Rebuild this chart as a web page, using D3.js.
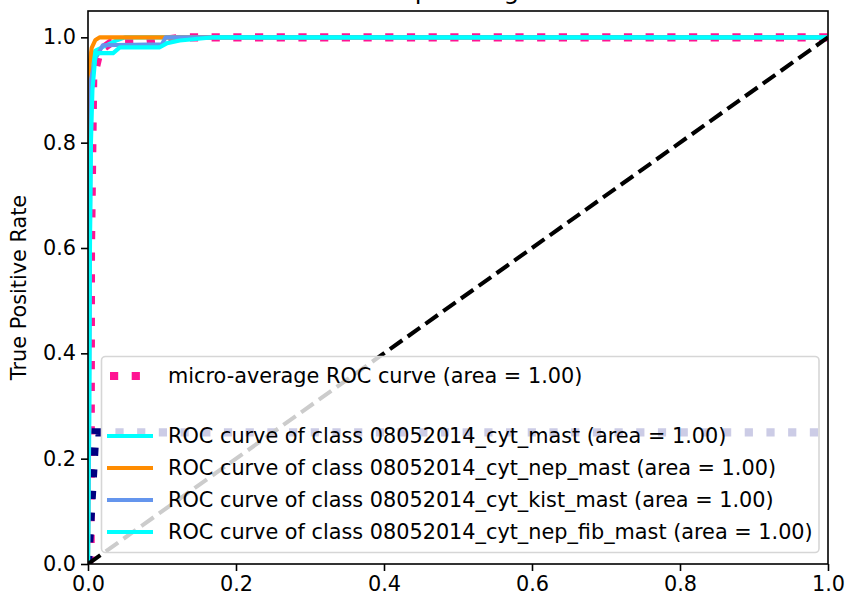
<!DOCTYPE html>
<html>
<head>
<meta charset="utf-8">
<script src="https://cdn.jsdelivr.net/npm/d3@7"></script>
<style>
  body { margin: 0; background: #fff; }
  svg text { font-family: "DejaVu Sans", sans-serif; fill: #000; }
</style>
</head>
<body>
<div class="chart"></div>
<script>
// --- data ---
const classNames = ["08052014_cyt_mast", "08052014_cyt_nep_mast", "08052014_cyt_kist_mast", "08052014_cyt_nep_fib_mast"];
const classColors = ["aqua", "darkorange", "cornflowerblue", "aqua"];
const classAreas = [1.00, 1.00, 1.00, 1.00];

const fpr0 = [0, 0.002, 0.003, 0.006, 0.01, 0.025, 0.04, 0.05, 1];
const tpr0 = [0, 0.3, 0.9, 0.96, 0.975, 0.985, 0.995, 1, 1];
const fpr1 = [0, 0.001, 0.002, 0.005, 0.01, 0.016, 1];
const tpr1 = [0, 0.6, 0.95, 0.98, 0.995, 1, 1];
const fpr2 = [0, 0.002, 0.004, 0.01, 0.02, 0.1, 0.105, 1];
const tpr2 = [0, 0.5, 0.92, 0.96, 0.985, 0.987, 1, 1];
const fpr3 = [0, 0.002, 0.004, 0.006, 0.01, 0.013, 0.034, 0.043, 0.097, 0.107, 0.124, 0.17, 1];
const tpr3 = [0, 0.5, 0.8, 0.9, 0.965, 0.97, 0.97, 0.981, 0.981, 0.989, 0.994, 1, 1];

const microFpr = [0, 0.0035, 0.004, 0.007, 0.016, 0.03, 0.07, 0.1, 0.13, 1];
const microTpr = [0, 0.01, 0.6, 0.92, 0.975, 0.989, 0.99, 0.995, 1, 1];
const microArea = 1.00;

const macroFpr = [0, 0.002, 0.01, 1];
const macroTpr = [0, 0.05, 0.25, 0.25];

const xTicks = [0, 0.2, 0.4, 0.6, 0.8, 1.0];
const yTicks = [0, 0.2, 0.4, 0.6, 0.8, 1.0];

const classFpr = [fpr0, fpr1, fpr2, fpr3];
const classTpr = [tpr0, tpr1, tpr2, tpr3];

// --- layout ---
const width = 848, height = 599;
const m = { left: 88, right: 828, top: 11, bottom: 564 };
const fontSize = "20.8px";

const svg = d3.select(".chart").append("svg")
    .attr("width", width)
    .attr("height", height);

const x = d3.scaleLinear().domain([0, 1]).range([m.left, m.right]);
const y = d3.scaleLinear().domain([0, 1.05]).range([m.bottom, m.top]);

const zip = (a, b) => a.map((v, i) => [v, b[i]]);
const line = d3.line().x(d => x(d[0])).y(d => y(d[1]));

svg.append("clipPath").attr("id", "plot-clip")
    .append("rect")
    .attr("x", m.left).attr("y", m.top)
    .attr("width", m.right - m.left).attr("height", m.bottom - m.top);

const plot = svg.append("g").attr("clip-path", "url(#plot-clip)");

// micro-average
plot.append("path")
    .datum(zip(microFpr, microTpr))
    .attr("d", line)
    .attr("fill", "none")
    .attr("stroke", "deeppink")
    .attr("stroke-width", 8.2)
    .attr("stroke-dasharray", "8.2,13.5");

// macro-average
plot.append("path")
    .datum(zip(macroFpr, macroTpr))
    .attr("d", line)
    .attr("fill", "none")
    .attr("stroke", "navy")
    .attr("stroke-width", 8.2)
    .attr("stroke-dasharray", "8.2,13.5");

classFpr.forEach((f, i) => {
    plot.append("path")
        .datum(zip(f, classTpr[i]))
        .attr("d", line)
        .attr("fill", "none")
        .attr("stroke", classColors[i])
        .attr("stroke-width", 4.1)
        .attr("stroke-linejoin", "round");
});

// chance diagonal
plot.append("path")
    .datum([[0, 0], [1, 1]])
    .attr("d", line)
    .attr("fill", "none")
    .attr("stroke", "#000")
    .attr("stroke-width", 4.1)
    .attr("stroke-dasharray", "15.2,6.6");

// axes
const xAxis = d3.axisBottom(x).tickValues(xTicks).tickFormat(d3.format(".1f")).tickSize(7).tickPadding(5);
const yAxis = d3.axisLeft(y).tickValues(yTicks).tickFormat(d3.format(".1f")).tickSize(7).tickPadding(5);

const gx = svg.append("g").attr("transform", `translate(0,${m.bottom})`).call(xAxis);
const gy = svg.append("g").attr("transform", `translate(${m.left},0)`).call(yAxis);
[gx, gy].forEach(g => {
    g.select(".domain").remove();
    g.selectAll("line").attr("stroke", "#000").attr("stroke-width", 1.6);
    g.selectAll("text").style("font-size", fontSize).style("font-family", "DejaVu Sans");
});

svg.append("rect")
    .attr("x", m.left).attr("y", m.top)
    .attr("width", m.right - m.left).attr("height", m.bottom - m.top)
    .attr("fill", "none")
    .attr("stroke", "#000")
    .attr("stroke-width", 1.6);

// title (mostly cut off at the top, as in the original)
svg.append("text")
    .text("Some extension of Receiver operating characteristic to multi-class")
    .attr("x", (m.left + m.right) / 2)
    .attr("y", -1)
    .style("text-anchor", "middle")
    .style("font-size", "24.8px");

svg.append("text")
    .text("True Positive Rate")
    .attr("transform", `translate(26,${(m.top + m.bottom) / 2}) rotate(-90)`)
    .style("text-anchor", "middle")
    .style("font-size", fontSize);

// legend
const legend = svg.append("g");
legend.append("rect")
    .attr("x", 101.5).attr("y", 356.5)
    .attr("width", 717.5).attr("height", 196)
    .attr("rx", 4)
    .attr("fill", "#fff").attr("fill-opacity", 0.8)
    .attr("stroke", "#d6d6d6").attr("stroke-width", 1.6);

const legendItems = [
    { label: `micro-average ROC curve (area = ${microArea.toFixed(2)})`, color: "deeppink", dotted: true, row: 376 },
    { label: "", color: null, dotted: false, row: 405 }
].concat(classNames.map((n, i) => ({
    label: `ROC curve of class ${n} (area = ${classAreas[i].toFixed(2)})`,
    color: classColors[i], dotted: false, row: 436 + i * 32
})));

legendItems.forEach(it => {
    if (it.color) {
        legend.append("line")
            .attr("x1", it.dotted ? 110 : 107).attr("x2", it.dotted ? 150 : 153)
            .attr("y1", it.row).attr("y2", it.row)
            .attr("stroke", it.color)
            .attr("stroke-width", it.dotted ? 8.2 : 4.1)
            .attr("stroke-dasharray", it.dotted ? "8.2,13.5" : null);
    }
    legend.append("text")
        .text(it.label)
        .attr("x", 168)
        .attr("y", it.row)
        .attr("dy", "0.36em")
        .style("font-size", fontSize);
});
</script>
</body>
</html>
